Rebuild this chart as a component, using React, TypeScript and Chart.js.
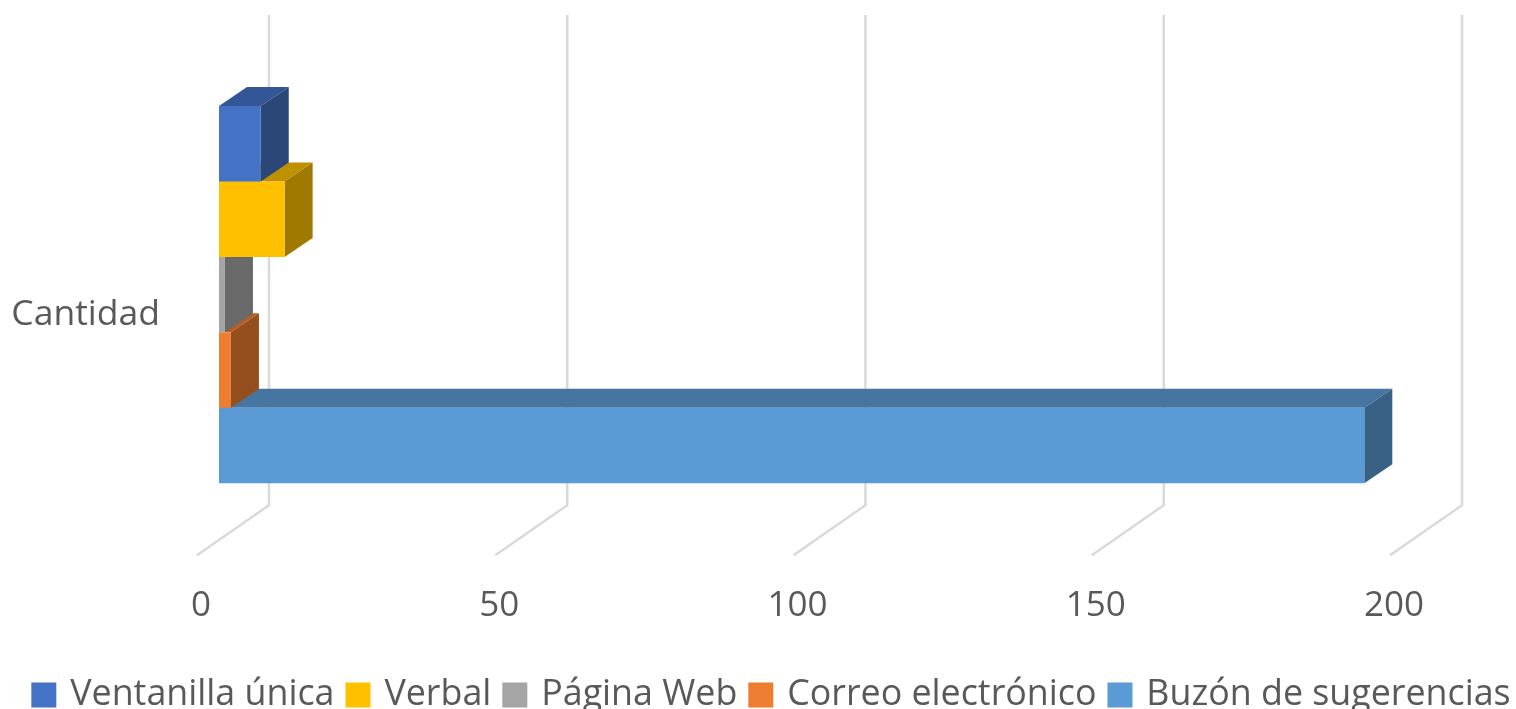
import React, { useEffect, useRef } from "react";
import { Chart, registerables } from "chart.js";

Chart.register(...registerables);

const categories = ["Cantidad"];
const seriesNames = ["Ventanilla única", "Verbal", "Página Web", "Correo electrónico", "Buzón de sugerencias"];
const ventanilla = [7];
const verbal = [11];
const paginaWeb = [1];
const correo = [2];
const buzon = [192];
const seriesValues = [ventanilla, verbal, paginaWeb, correo, buzon];
const frontColors = ["#4472C4", "#FFC000", "#A5A5A5", "#ED7D31", "#5B9BD5"];
const topColors = ["#335697", "#BF9000", "#7C7C7C", "#B25E25", "#4575A0"];
const sideColors = ["#2A4778", "#A07900", "#696969", "#954F1E", "#396185"];
const tickValues = [0, 50, 100, 150, 200];

const FONT = "'Open Sans', sans-serif";
const TEXT = "#595959";
const DEPTH_X = 28;
const DEPTH_Y = -19;
const SHIFT_X = 18;
const SHIFT_Y = -20.5;

const threeD = {
  id: "threeD",
  beforeDatasetsDraw(chart: any) {
    const { ctx, scales, chartArea } = chart;
    ctx.save();
    ctx.strokeStyle = "#D9D9D9";
    ctx.lineWidth = 2.5;
    ctx.lineJoin = "miter";
    for (const v of tickValues) {
      const fx = scales.x.getPixelForValue(v) - 4;
      const bottom = chartArea.bottom;
      ctx.beginPath();
      ctx.moveTo(fx, bottom);
      ctx.lineTo(fx + 72, bottom - 50);
      ctx.lineTo(fx + 72, 15);
      ctx.stroke();
    }
    ctx.restore();
    ctx.save();
    ctx.translate(SHIFT_X, SHIFT_Y);
  },
  beforeDatasetDraw(chart: any, args: any) {
    const { ctx } = chart;
    const i = args.index;
    for (const bar of chart.getDatasetMeta(i).data) {
      const left = bar.base;
      const right = bar.x;
      const top = bar.y - bar.height / 2;
      const bottom = bar.y + bar.height / 2;
      ctx.fillStyle = topColors[i];
      ctx.beginPath();
      ctx.moveTo(left, top);
      ctx.lineTo(left + DEPTH_X, top + DEPTH_Y);
      ctx.lineTo(right + DEPTH_X, top + DEPTH_Y);
      ctx.lineTo(right, top);
      ctx.closePath();
      ctx.fill();
      ctx.fillStyle = sideColors[i];
      ctx.beginPath();
      ctx.moveTo(right, top);
      ctx.lineTo(right + DEPTH_X, top + DEPTH_Y);
      ctx.lineTo(right + DEPTH_X, bottom + DEPTH_Y);
      ctx.lineTo(right, bottom);
      ctx.closePath();
      ctx.fill();
    }
  },
  afterDatasetsDraw(chart: any) {
    chart.ctx.restore();
  },
};

export default function App() {
  const ref = useRef<HTMLCanvasElement>(null);
  useEffect(() => {
    const chart = new Chart(ref.current!, {
      type: "bar",
      data: {
        labels: categories,
        datasets: seriesNames.map((name, i) => ({
          label: name,
          data: seriesValues[i],
          backgroundColor: frontColors[i],
          borderWidth: 0,
          categoryPercentage: 0.7854,
          barPercentage: 1,
          clip: false as any,
        })),
      },
      options: {
        indexAxis: "y",
        animation: false,
        responsive: false,
        layout: { padding: { left: 8, right: -22, top: 75, bottom: -14 } },
        scales: {
          x: {
            min: 0,
            max: 220.45,
            grid: { display: false },
            border: { display: false },
            afterBuildTicks: (s: any) => {
              s.ticks = tickValues.map((value) => ({ value }));
            },
            afterFit: (s: any) => {
              s.height = 107;
            },
            ticks: {
              padding: 22,
              maxRotation: 0,
              autoSkip: false,
              color: TEXT,
              font: { family: FONT, size: 35 },
            },
          },
          y: {
            grid: { display: false },
            border: { display: false },
            afterFit: (s: any) => {
              s.width = 193;
            },
            ticks: {
              padding: 33,
              color: TEXT,
              font: { family: FONT, size: 35.5 },
            },
          },
        },
        plugins: {
          tooltip: { enabled: false },
          legend: {
            position: "bottom",
            labels: {
              usePointStyle: true,
              pointStyle: "rect",
              boxWidth: 17,
              boxHeight: 25,
              padding: 15,
              color: TEXT,
              font: { family: FONT, size: 35.8 },
            },
          },
        },
      },
      plugins: [threeD],
    });
    return () => chart.destroy();
  }, []);
  return (
    <div style={{ position: "fixed", left: 0, top: 0, width: 1516, height: 709, background: "#fff" }}>
      <canvas ref={ref} width={1516} height={709} style={{ display: "block", filter: "blur(0.6px)" }} />
    </div>
  );
}
